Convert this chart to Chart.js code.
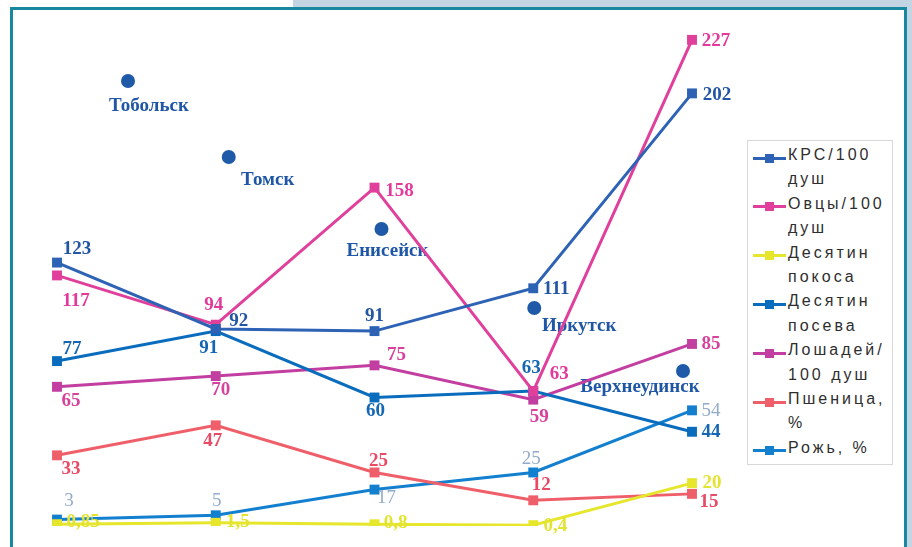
<!DOCTYPE html>
<html lang="ru">
<head>
<meta charset="utf-8">
<title>Сибирские города</title>
<script src="https://cdn.jsdelivr.net/npm/chart.js@4.4.1/dist/chart.umd.min.js"></script>
<style>
  html, body { margin: 0; padding: 0; background: #fff; }
  #stage { position: relative; width: 912px; height: 547px; overflow: hidden; background: #fff; }
  #band { position: absolute; left: 293px; top: 0; width: 619px; height: 9px; background: #c3d5e2; }
  #side { position: absolute; left: 905px; top: 0; width: 7px; height: 547px; background: #c3d5e2; }
  #frame { position: absolute; left: 10px; top: 7px; width: 897px; height: 600px; box-sizing: border-box;
           border: 3.5px solid #17889f; background: #fff; }
  #chart { position: absolute; left: 0; top: 0; }
  #legend { position: absolute; left: 747px; top: 140px; width: 146px; height: 325px; box-sizing: border-box;
            border: 1px solid #d8d8d8; background: #fff; }
  .row { position: absolute; left: 40px; height: 24px; line-height: 24px; white-space: nowrap;
         font: 16px "Liberation Sans", Arial, sans-serif; letter-spacing: 3px; color: #2e2e2e; }
  .icon { position: absolute; left: 5px; width: 33px; height: 3px; }
  .icon i { position: absolute; left: 12px; top: -3px; width: 9px; height: 9px; }
</style>
</head>
<body>
<div id="stage">
  <div id="band"></div>
  <div id="side"></div>
  <div id="frame"></div>
  <canvas id="chart" width="912" height="547"></canvas>
  <div id="legend"></div>
</div>
<script>
// Города по маршруту
const cities = ['Тобольск', 'Томск', 'Енисейск', 'Иркутск', 'Верхнеудинск'];

// Показатели по городам
const krs      = [123, 92, 91, 111, 202];   // КРС на 100 душ
const ovcy     = [117, 94, 158, 63, 227];   // овцы на 100 душ
const pokos    = [0.85, 1.5, 0.8, 0.4, 20]; // десятин покоса
const posev    = [77, 91, 60, 63, 44];      // десятин посева
const loshadi  = [65, 70, 75, 59, 85];      // лошади на 100 душ
const pshenica = [33, 47, 25, 12, 15];      // пшеница, %
const rozh     = [3, 5, 17, 25, 54];        // рожь, %

// Подписи легенды (по строкам)
const seriesNames = [
  ['КРС/100', 'душ'],
  ['Овцы/100', 'душ'],
  ['Десятин', 'покоса'],
  ['Десятин', 'посева'],
  ['Лошадей/', '100 душ'],
  ['Пшеница,', '%'],
  ['Рожь, %']
];

const lineColors  = ['#2d62b5', '#e0409b', '#e6e62c', '#0a6cbd', '#c23ea1', '#ef5f69', '#137fcf'];
const labelColors = ['#2255a4', '#e2399a', '#e3e332', '#1566b4', '#d6429c', '#e94a66', '#93abca'];
const labelFonts  = [
  'bold 19px "Liberation Serif", "Times New Roman", serif',
  'bold 19px "Liberation Serif", "Times New Roman", serif',
  'bold 19px "Liberation Serif", "Times New Roman", serif',
  'bold 19px "Liberation Serif", "Times New Roman", serif',
  'bold 19px "Liberation Serif", "Times New Roman", serif',
  'bold 19px "Liberation Serif", "Times New Roman", serif',
  '19px "Liberation Serif", "Times New Roman", serif'
];

// Смещение центра подписи значения от точки, px
const labelShift = [
  [[20, -13], [23, -8], [0, -15], [23, 1], [25, 2]],
  [[19, 26], [-2, -20], [25, 3], [26, -17], [24, 1]],
  [[26, -2], [22, -1], [21, -1], [22, 1], [20, 0]],
  [[15, -12], [-7, 17], [1, 14], [-2, -23], [19, 0]],
  [[14, 14], [5, 14], [22, -10], [6, 17], [19, 0]],
  [[14, 14], [-3, 16], [4, -11], [8, -15], [17, 8]],
  [[12, -19], [1, -14], [12, 8], [-2, -13], [19, 1]]
];

// Метки городов: сдвиг кружка от позиции категории (dx) и его высота от верха области графика (y),
// затем сдвиг названия от кружка
const cityTags = [
  { dx: 71, y: 69, tx: 21, ty: 25 },
  { dx: 13, y: 145, tx: 39, ty: 23 },
  { dx: 7, y: 217, tx: 6, ty: 22 },
  { dx: 1, y: 296, tx: 45, ty: 18 },
  { dx: -9, y: 359, tx: -43, ty: 16 }
];

const seriesValues = [krs, ovcy, pokos, posev, loshadi, pshenica, rozh];

const fmt = v => String(v).replace('.', ',');

const cityPlugin = {
  id: 'cityTags',
  beforeDatasetsDraw(chart) {
    const { ctx, chartArea, scales } = chart;
    ctx.save();
    cities.forEach((name, i) => {
      const t = cityTags[i];
      const cx = scales.x.getPixelForValue(i) + t.dx;
      const cy = chartArea.top + t.y;
      ctx.beginPath();
      ctx.arc(cx, cy, 7, 0, Math.PI * 2);
      ctx.fillStyle = '#1f5aa8';
      ctx.fill();
      ctx.font = 'bold 19px "Liberation Serif", "Times New Roman", serif';
      ctx.fillStyle = '#1f56a6';
      ctx.textAlign = 'center';
      ctx.textBaseline = 'middle';
      ctx.fillText(name, cx + t.tx, cy + t.ty);
    });
    ctx.restore();
  }
};

const valueLabelPlugin = {
  id: 'valueLabels',
  afterDatasetsDraw(chart) {
    const ctx = chart.ctx;
    chart.data.datasets.forEach((ds, di) => {
      const meta = chart.getDatasetMeta(di);
      ctx.save();
      ctx.font = labelFonts[di];
      ctx.fillStyle = labelColors[di];
      ctx.textAlign = 'center';
      ctx.textBaseline = 'middle';
      meta.data.forEach((pt, i) => {
        const [dx, dy] = labelShift[di][i];
        ctx.fillText(fmt(ds.data[i]), pt.x + dx, pt.y + dy);
      });
      ctx.restore();
    });
  }
};

const datasets = seriesValues.map((vals, i) => ({
  label: seriesNames[i].join(' '),
  data: vals,
  borderColor: lineColors[i],
  backgroundColor: lineColors[i],
  borderWidth: 3,
  pointStyle: 'rect',
  pointRadius: 7,
  pointBorderWidth: 0,
  pointBackgroundColor: lineColors[i],
  tension: 0,
  fill: false
}));

const chart = new Chart(document.getElementById('chart'), {
  type: 'line',
  data: { labels: cities, datasets },
  options: {
    responsive: false,
    devicePixelRatio: 1,
    animation: false,
    layout: { padding: { left: 57, right: 220, top: 12, bottom: 21 } },
    scales: {
      x: { type: 'category', display: false, offset: false },
      y: { type: 'linear', display: false, min: 0, max: 240 }
    },
    plugins: { legend: { display: false }, tooltip: { enabled: false } }
  },
  plugins: [cityPlugin, valueLabelPlugin]
});

// Легенда справа: значок линии с маркером и подпись в две строки
(function buildLegend() {
  const box = document.getElementById('legend');
  const rowStep = 24.4;
  const firstRowCenter = 17; // от верхнего края рамки легенды
  let row = 0;
  chart.data.datasets.forEach((ds, i) => {
    const top = firstRowCenter + row * rowStep;
    const icon = document.createElement('div');
    icon.className = 'icon';
    icon.style.top = (top - 1.5) + 'px';
    icon.style.background = lineColors[i];
    const sq = document.createElement('i');
    sq.style.background = lineColors[i];
    icon.appendChild(sq);
    box.appendChild(icon);
    seriesNames[i].forEach(line => {
      const r = document.createElement('div');
      r.className = 'row';
      r.style.top = (firstRowCenter + row * rowStep - 12) + 'px';
      r.textContent = line;
      box.appendChild(r);
      row++;
    });
  });
})();
</script>
</body>
</html>
